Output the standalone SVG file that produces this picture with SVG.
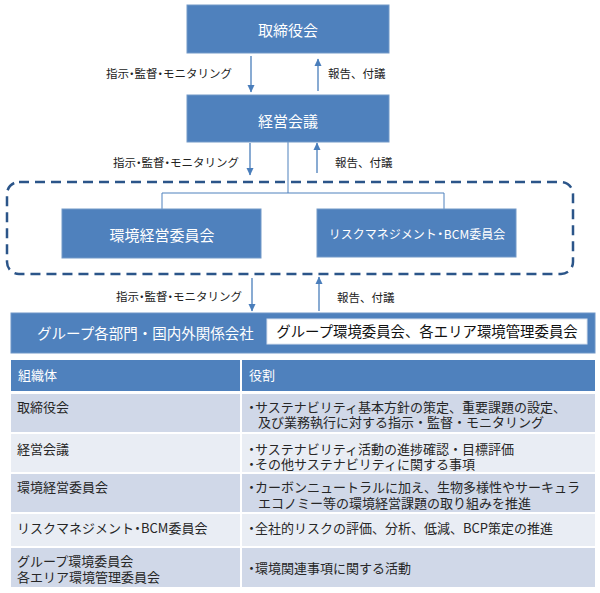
<svg xmlns="http://www.w3.org/2000/svg" width="600" height="593" viewBox="0 0 600 593">
<defs>
<marker id="ah" markerWidth="8" markerHeight="8" refX="7" refY="4" orient="auto" markerUnits="userSpaceOnUse">
<path d="M0,0.5 L7.5,4 L0,7.5 Z" fill="#4a7ebb"/>
</marker>
<style>
.box{fill:#4f81bd;stroke:#7399c8;stroke-width:1}
.bt{font-family:"Noto Sans CJK JP","Noto Sans",sans-serif;fill:#fff;text-anchor:middle}
.lbl{font-family:"Noto Sans CJK JP","Noto Sans",sans-serif;fill:#222;font-size:11.5px}
.arr{stroke:#4a7ebb;stroke-width:1.3;fill:none;marker-end:url(#ah)}
.tree{stroke:#4f81bd;stroke-width:1;fill:none}
.tt{font-family:"Noto Sans CJK JP","Noto Sans",sans-serif;fill:#262626;font-size:13px}
.th{font-family:"Noto Sans CJK JP","Noto Sans",sans-serif;fill:#fff;font-size:13px}
.rd{fill:#d0d8e8}
.rl{fill:#e9edf4}
</style>
</defs>
<rect width="600" height="593" fill="#fff"/>

<g id="group-frame">
<rect x="7" y="182" width="566" height="92" rx="12" ry="12" fill="none" stroke="#2b5589" stroke-width="2.5" stroke-dasharray="10 6"/>
</g>

<g id="connectors">
<line class="arr" x1="251" y1="56" x2="251" y2="92"/>
<line class="arr" x1="318" y1="91" x2="318" y2="59"/>
<line class="arr" x1="250" y1="143" x2="250" y2="175"/>
<line class="arr" x1="317" y1="173" x2="317" y2="143"/>
<line class="arr" x1="252" y1="278" x2="252" y2="311"/>
<line class="arr" x1="319" y1="311" x2="319" y2="277"/>
<path class="tree" d="M288,142 V193 M162,193 H444 M162,193 V209 M444,193 V209"/>
<text class="lbl" x="232" y="78" text-anchor="end" font-size="11">指示<tspan dx="-3">・</tspan><tspan dx="-3">監督</tspan><tspan dx="-3">・</tspan><tspan dx="-3">モニタリング</tspan></text>
<text class="lbl" x="328" y="78">報告、付議</text>
<text class="lbl" x="239" y="167" text-anchor="end" font-size="11">指示<tspan dx="-3">・</tspan><tspan dx="-3">監督</tspan><tspan dx="-3">・</tspan><tspan dx="-3">モニタリング</tspan></text>
<text class="lbl" x="335" y="167">報告、付議</text>
<text class="lbl" x="242" y="301" text-anchor="end" font-size="11">指示<tspan dx="-3">・</tspan><tspan dx="-3">監督</tspan><tspan dx="-3">・</tspan><tspan dx="-3">モニタリング</tspan></text>
<text class="lbl" x="337" y="302">報告、付議</text>
</g>

<g id="board">
<rect class="box" x="187" y="5" width="202" height="48"/>
<text class="bt" x="288" y="35.5" font-size="15">取締役会</text>
</g>

<g id="management">
<rect class="box" x="187" y="95" width="202" height="47"/>
<text class="bt" x="288" y="126.5" font-size="15">経営会議</text>
</g>

<g id="env-committee">
<rect class="box" x="62" y="209" width="199" height="49"/>
<text class="bt" x="162" y="240.5" font-size="15">環境経営委員会</text>
</g>

<g id="risk-committee">
<rect class="box" x="317" y="209" width="199" height="48"/>
<text class="bt" x="417" y="238.5" font-size="12">リスクマネジメント<tspan dx="-2.5">・</tspan><tspan dx="-2.5">BCM委員会</tspan></text>
</g>

<g id="group-companies">
<rect x="11" y="313" width="584" height="40" fill="#4f81bd" stroke="#6f96c7" stroke-width="1"/>
<text x="37" y="338.5" font-family="Noto Sans CJK JP, Noto Sans, sans-serif" font-size="14.5" fill="#fff">グループ各部門・国内外関係会社</text>
<rect x="267" y="319" width="320" height="25" fill="#fff" stroke="#d9e2ef" stroke-width="1"/>
<text x="427" y="336.5" text-anchor="middle" font-family="Noto Sans CJK JP, Noto Sans, sans-serif" font-size="14.4" fill="#111">グループ環境委員会、各エリア環境管理委員会</text>
</g>

<g id="table">
<rect x="11" y="360" width="229" height="31" fill="#4f81bd"/>
<rect x="242" y="360" width="353" height="31" fill="#4f81bd"/>
<text class="th" x="18" y="380">組織体</text>
<text class="th" x="249" y="380">役割</text>

<rect class="rd" x="11" y="394" width="229" height="38"/>
<rect class="rd" x="242" y="394" width="353" height="38"/>
<text class="tt" x="17" y="412">取締役会</text>
<text class="tt"><tspan x="245" y="412">・</tspan><tspan dx="-3">サステナビリティ基本方針の策定、重要課題の設定、</tspan><tspan x="258" y="427">及び業務執行に対する指示・監督・モニタリング</tspan></text>

<rect class="rl" x="11" y="434" width="229" height="38"/>
<rect class="rl" x="242" y="434" width="353" height="38"/>
<text class="tt" x="17" y="454">経営会議</text>
<text class="tt"><tspan x="245" y="454">・</tspan><tspan dx="-3">サステナビリティ活動の進捗確認・目標評価</tspan><tspan x="245" y="469">・</tspan><tspan dx="-3">その他サステナビリティに関する事項</tspan></text>

<rect class="rd" x="11" y="474" width="229" height="38"/>
<rect class="rd" x="242" y="474" width="353" height="38"/>
<text class="tt" x="17" y="492">環境経営委員会</text>
<text class="tt"><tspan x="245" y="492">・</tspan><tspan dx="-3">カーボンニュートラルに加え、生物多様性やサーキュラ</tspan><tspan x="258" y="508">エコノミー等の環境経営課題の取り組みを推進</tspan></text>

<rect class="rl" x="11" y="514" width="229" height="32"/>
<rect class="rl" x="242" y="514" width="353" height="32"/>
<text class="tt" x="17" y="533">リスクマネジメント<tspan dx="-3">・</tspan><tspan dx="-3">BCM委員会</tspan></text>
<text class="tt"><tspan x="245" y="533">・</tspan><tspan dx="-3">全社的リスクの評価、分析、低減、BCP策定の推進</tspan></text>

<rect class="rd" x="11" y="548" width="229" height="39"/>
<rect class="rd" x="242" y="548" width="353" height="39"/>
<text class="tt"><tspan x="17" y="566">グループ環境委員会</tspan><tspan x="17" y="582">各エリア環境管理委員会</tspan></text>
<text class="tt"><tspan x="245" y="573">・</tspan><tspan dx="-3">環境関連事項に関する活動</tspan></text>
</g>
</svg>
